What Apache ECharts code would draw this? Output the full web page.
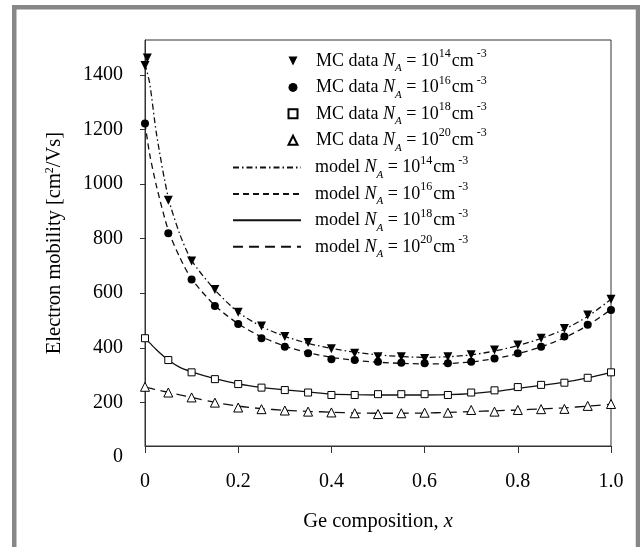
<!DOCTYPE html>
<html>
<head>
<meta charset="utf-8">
<script src="https://cdn.jsdelivr.net/npm/echarts@6/dist/echarts.min.js"></script>
<style>
html,body{margin:0;padding:0;background:#fff;}
#chart{width:640px;height:547px;}
</style>
</head>
<body>
<div id="chart"></div>
<script>
// ---- data ----
const xMC = [0, 0.05, 0.1, 0.15, 0.2, 0.25, 0.3, 0.35, 0.4, 0.45, 0.5, 0.55, 0.6, 0.65, 0.7, 0.75, 0.8, 0.85, 0.9, 0.95, 1.0];
const mc14 = [1435, 941, 718, 614, 530, 480, 441, 419, 396, 380, 367, 367, 361, 367, 374, 392, 410, 435, 471, 520, 578];
const mc14ExtraX = [0.005];
const mc14Extra = [1462];
const mc16 = [1222, 820, 650, 553, 487, 435, 404, 380, 358, 355, 349, 345, 343, 343, 349, 361, 380, 404, 441, 484, 538];
const mc18 = [435, 355, 310, 285, 267, 254, 245, 236, 227, 227, 230, 230, 230, 227, 236, 244, 256, 264, 272, 290, 310];
const mc20 = [257, 236, 218, 199, 181, 175, 170, 166, 163, 160, 157, 160, 162, 162, 172, 166, 172, 175, 176, 187, 194];

const xModel = [0, 0.01, 0.025, 0.05, 0.075, 0.1, 0.15, 0.2, 0.25, 0.3, 0.35, 0.4, 0.45, 0.5, 0.55, 0.6, 0.65, 0.7, 0.75, 0.8, 0.85, 0.9, 0.95, 1.0];
const model14 = [1440, 1370, 1180, 950, 815, 720, 612, 530, 478, 442, 416, 398, 384, 374, 368, 365, 367, 374, 388, 408, 434, 468, 515, 578];
const model16 = [1222, 1110, 990, 830, 730, 652, 555, 488, 440, 406, 382, 365, 354, 347, 343, 341, 342, 348, 360, 378, 403, 437, 482, 540];
const model18 = [435, 418, 392, 355, 328, 312, 287, 268, 255, 246, 238, 230, 228, 227, 227, 227, 228, 232, 240, 251, 262, 274, 290, 310];
const model20 = [255, 252, 246, 237, 227, 218, 200, 186, 177, 171, 167, 164, 161, 160, 160, 161, 163, 166, 169, 172, 176, 180, 186, 193];

const concExp = ['14', '16', '18', '20'];
const xTicks = [0, 0.2, 0.4, 0.6, 0.8, 1.0];
const xTickLabels = ['0', '0.2', '0.4', '0.6', '0.8', '1.0'];
const yTicks = [0, 200, 400, 600, 800, 1000, 1200, 1400];
const yMin = 40;
const yMax = 1528;
const xTitle = 'Ge composition, ';
const xTitleVar = 'x';
const yTitleA = 'Electron mobility [cm';
const yTitleSup = '2';
const yTitleB = '/Vs]';

// ---- chart ----
const FONT = "'Liberation Serif', 'Times New Roman', serif";
const pairs = (xs, ys) => xs.map((x, i) => [x, ys[i]]);
const mcName = e => 'MC data|' + e;
const modelName = e => 'model|' + e;

function makeRich(padLeft) {
  return {
    p: {fontFamily: FONT, fontSize: 18, lineHeight: 26, color: '#000', width: padLeft},
    t: {fontFamily: FONT, fontSize: 18, lineHeight: 26, color: '#000'},
    i: {fontFamily: FONT, fontSize: 18, lineHeight: 26, fontStyle: 'italic', color: '#000'},
    sub: {fontFamily: FONT, fontSize: 11, lineHeight: 15, fontStyle: 'italic', verticalAlign: 'bottom', color: '#000'},
    sup: {fontFamily: FONT, fontSize: 12, lineHeight: 4, verticalAlign: 'top', color: '#000'},
    cm: {fontFamily: FONT, fontSize: 18, lineHeight: 26, color: '#000', padding: [0, 3, 0, 1]}
  };
}
function legendFmt(name) {
  const p = name.split('|');
  return '{p|}{t|' + p[0] + ' }{i|N}{sub|A}{t| = 10}{sup|' + p[1] + '}{cm|cm}{sup|-3}';
}

const mcSymbols = [
  {symbol: 'triangle', rotate: 180, size: 9, fill: '#000', legendIcon: 'path://M0,0 L10,0 L5,10 Z'},
  {symbol: 'circle', rotate: 0, size: 8, fill: '#000', legendIcon: 'circle'},
  {symbol: 'rect', rotate: 0, size: 7, fill: '#fff', legendIcon: 'rect'},
  {symbol: 'triangle', rotate: 0, size: 9, fill: '#fff', legendIcon: 'triangle'}
];
const mcData = [mc14, mc16, mc18, mc20];
const modelData = [model14, model16, model18, model20];
const modelDash = [[6, 3, 1.5, 3], [6, 4], 'solid', [10, 6]];

const series = [];
modelData.forEach((d, k) => {
  series.push({
    name: modelName(concExp[k]), type: 'line', data: pairs(xModel, d),
    symbol: 'none', showSymbol: false, smooth: 0.25, z: 2,
    lineStyle: {color: '#111', width: 1.3, type: modelDash[k]},
    itemStyle: {color: '#111'}, silent: true, animation: false
  });
});
mcData.forEach((d, k) => {
  const s = mcSymbols[k];
  let pts = pairs(xMC, d);
  if (k === 0) pts = pts.concat(pairs(mc14ExtraX, mc14Extra));
  series.push({
    name: mcName(concExp[k]), type: 'scatter', data: pts,
    symbol: s.symbol, symbolRotate: s.rotate, symbolSize: s.size, z: 5,
    itemStyle: {color: s.fill, borderColor: '#000', borderWidth: s.fill === '#fff' ? 1 : 0, opacity: 1},
    silent: true, animation: false
  });
});

const chart = echarts.init(document.getElementById('chart'), null, {renderer: 'canvas'});
const axisColor = '#333';
chart.setOption({
  backgroundColor: '#fff',
  animation: false,
  grid: {left: 145, right: 29, top: 40, bottom: 101, show: true, borderColor: axisColor, borderWidth: 1, containLabel: false},
  xAxis: {
    type: 'value', min: 0, max: 1, interval: 0.2,
    name: xTitle + '{v|' + xTitleVar + '}', nameLocation: 'middle', nameGap: 65,
    nameTextStyle: {fontFamily: FONT, fontSize: 20.5, color: '#000',
      rich: {v: {fontFamily: FONT, fontSize: 20.5, fontStyle: 'italic', color: '#000'}}},
    axisLine: {show: true, lineStyle: {color: axisColor, width: 1}},
    axisTick: {show: true, length: 7, inside: false, lineStyle: {color: axisColor}, customValues: xTicks},
    axisLabel: {show: true, margin: 26, fontFamily: FONT, fontSize: 20, color: '#000', customValues: xTicks,
      formatter: v => { const i = xTicks.findIndex(t => Math.abs(t - v) < 1e-9); return i >= 0 ? xTickLabels[i] : ''; }},
    splitLine: {show: false}
  },
  yAxis: {
    type: 'value', min: yMin, max: yMax,
    name: yTitleA + '{s|' + yTitleSup + '}' + yTitleB, nameLocation: 'middle', nameGap: 80,
    nameTextStyle: {fontFamily: FONT, fontSize: 20.5, color: '#000',
      rich: {s: {fontFamily: FONT, fontSize: 12, lineHeight: 6, verticalAlign: 'top', color: '#000'}}},
    axisLine: {show: true, lineStyle: {color: axisColor, width: 1}},
    axisTick: {show: true, length: 5, inside: false, lineStyle: {color: axisColor}, customValues: yTicks.filter(v => v >= yMin && v <= yMax)},
    axisLabel: {show: true, margin: 22, fontFamily: FONT, fontSize: 20, color: '#000',
      customValues: yTicks.filter(v => v >= yMin && v <= yMax), formatter: v => String(v)},
    splitLine: {show: false}
  },
  legend: [
    {
      orient: 'vertical', left: 287.5, top: 48, padding: 0, itemGap: 0.43,
      itemWidth: 9, itemHeight: 9, selectedMode: false,
      data: concExp.map((e, k) => ({name: mcName(e), icon: mcSymbols[k].legendIcon})),
      formatter: legendFmt,
      textStyle: {fontFamily: FONT, fontSize: 18, color: '#000', rich: makeRich(13.5)}
    },
    {
      orient: 'vertical', left: 232, top: 154.5, padding: 0, itemGap: 0.43,
      itemWidth: 68, itemHeight: 9, selectedMode: false,
      itemStyle: {opacity: 0, borderWidth: 0},
      data: concExp.map(modelName), formatter: legendFmt,
      textStyle: {fontFamily: FONT, fontSize: 18, color: '#000', rich: makeRich(9)}
    }
  ],
  series: series
});

// tick label "0" sits below the visible axis extent: place it through the axis scale
const y0 = chart.convertToPixel({yAxisIndex: 0}, yTicks[0]);
const xAxisPix = chart.convertToPixel({xAxisIndex: 0}, 0);
chart.setOption({
  graphic: [
    {type: 'rect', silent: true, z: 100,
      shape: {x: 14.25, y: 7.25, width: 623.75, height: 620},
      style: {fill: 'none', stroke: '#878787', lineWidth: 4.5}},
    {type: 'text', silent: true, z: 100, x: xAxisPix - 22, y: y0,
      style: {text: String(yTicks[0]), font: '20px ' + FONT, fill: '#000', align: 'right', verticalAlign: 'middle'}}
  ]
});
</script>
</body>
</html>
